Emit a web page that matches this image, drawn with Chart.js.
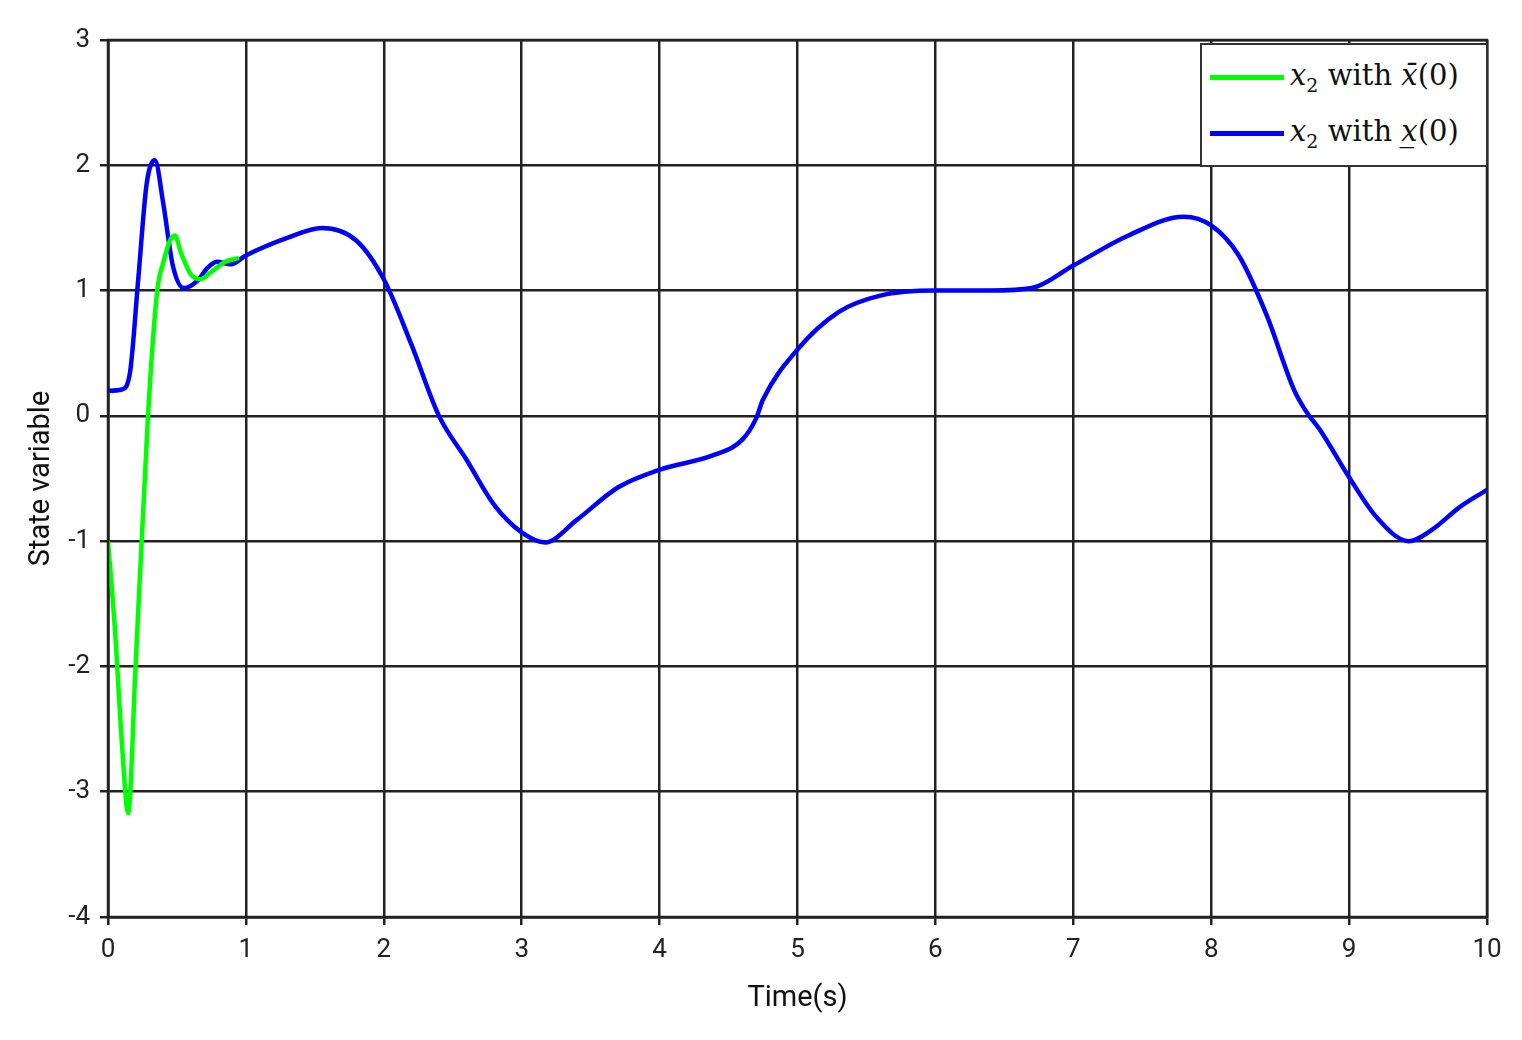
<!DOCTYPE html>
<html>
<head>
<meta charset="utf-8">
<script src="https://cdn.jsdelivr.net/npm/chart.js@4"></script>
<style>
  body { margin: 0; background: #fff; }
  #wrap { position: relative; width: 1522px; height: 1040px; }
  #legend {
    position: absolute; left: 1200px; top: 43px; width: 288px; height: 124px;
    background: #fff; border: 2px solid #333; box-sizing: border-box;
    font-family: "DejaVu Serif", "Liberation Serif", serif; font-size: 29px; color: #111;
  }
  .row { position: absolute; left: 8px; white-space: nowrap; line-height: 40px; }
  .swatch { display: inline-block; vertical-align: middle; width: 74px; height: 5px; margin-right: 6px; }
  .sub { font-size: 19px; position: relative; top: 7px; }
</style>
</head>
<body>
<div id="wrap">
  <canvas id="stateChart" width="1522" height="1040"></canvas>
  <div id="legend">
    <div class="row" style="top:10px"><span class="swatch" style="background:#00ff00"></span><i>x</i><span class="sub">2</span> with <i>x̄</i>(0)</div>
    <div class="row" style="top:66px"><span class="swatch" style="background:#0000ff"></span><i>x</i><span class="sub">2</span> with <i>x̲</i>(0)</div>
  </div>
</div>
<script>
const greenT = [0, 0.05, 0.1, 0.146, 0.2, 0.29, 0.357, 0.4, 0.45, 0.485, 0.53, 0.6, 0.67, 0.75, 0.85, 0.91, 0.95];
const greenY = [-1, -1.7, -2.6, -3.17, -2.0, 0, 1.0, 1.22, 1.4, 1.44, 1.3, 1.13, 1.09, 1.15, 1.23, 1.25, 1.26];

const blueT = [0, 0.1, 0.16, 0.22, 0.28, 0.34, 0.4, 0.47, 0.55, 0.65, 0.72, 0.79, 0.89, 1, 1.3, 1.55, 1.8, 2, 2.2, 2.4, 2.6, 2.8, 3, 3.17,
  3.4, 3.7, 4, 4.4, 4.6, 4.7, 4.75, 5, 5.3, 5.6, 6, 6.4, 6.7, 7, 7.4, 7.8, 8, 8.2, 8.4, 8.6, 8.68, 8.8, 9, 9.2, 9.43, 9.6, 9.8, 10];
const blueY = [0.2, 0.21, 0.35, 1.1, 1.85, 2.04, 1.7, 1.2, 1.02, 1.08, 1.18, 1.23, 1.21, 1.28, 1.42, 1.5, 1.4, 1.09, 0.57, 0, -0.35, -0.71, -0.93, -1.01,
  -0.83, -0.57, -0.43, -0.31, -0.19, -0.02, 0.13, 0.53, 0.83, 0.96, 1.0, 1.0, 1.02, 1.2, 1.44, 1.59, 1.52, 1.28, 0.81, 0.21, 0.05, -0.13, -0.49, -0.81, -1.0, -0.91, -0.73, -0.59];

const toPoints = (ts, ys) => ts.map((t, i) => ({ x: t, y: ys[i] }));

const tickFont = { family: 'Roboto, "Liberation Sans", sans-serif', size: 26 };
const gridStyle = { color: '#222', lineWidth: 2.5 };

new Chart(document.getElementById('stateChart').getContext('2d'), {
  type: 'line',
  data: {
    datasets: [
      { label: 'x2 with x̄(0)', data: toPoints(greenT, greenY), borderColor: '#00ff00', borderWidth: 4.5, pointRadius: 0, cubicInterpolationMode: 'monotone' },
      { label: 'x2 with x̲(0)', data: toPoints(blueT, blueY), borderColor: '#0000ff', borderWidth: 4.5, pointRadius: 0, cubicInterpolationMode: 'monotone' }
    ]
  },
  options: {
    responsive: false,
    animation: false,
    layout: { padding: { top: 40, right: 35, left: 20, bottom: 20 } },
    plugins: { legend: { display: false }, tooltip: { enabled: false } },
    scales: {
      x: {
        type: 'linear', min: 0, max: 10,
        ticks: { stepSize: 1, color: '#222', font: tickFont, padding: 10 },
        grid: gridStyle, border: { color: '#222', width: 2.5 },
        title: { display: true, text: 'Time(s)', color: '#111', font: { family: tickFont.family, size: 29 }, padding: { top: 2 } },
        afterFit: s => { s.height = 1040 - 917 - 20; }
      },
      y: {
        min: -4, max: 3,
        ticks: { stepSize: 1, color: '#222', font: tickFont, padding: 10 },
        grid: gridStyle, border: { color: '#222', width: 2.5 },
        title: { display: true, text: 'State variable', color: '#111', font: { family: tickFont.family, size: 29 } },
        afterFit: s => { s.width = 108 - 20; }
      }
    }
  },
  plugins: [{
    id: 'frame',
    afterDraw(chart) {
      const { ctx, chartArea: a } = chart;
      ctx.save();
      ctx.strokeStyle = '#222';
      ctx.lineWidth = 2.5;
      ctx.strokeRect(a.left, a.top, a.right - a.left, a.bottom - a.top);
      ctx.restore();
    }
  }]
});
</script>
</body>
</html>
